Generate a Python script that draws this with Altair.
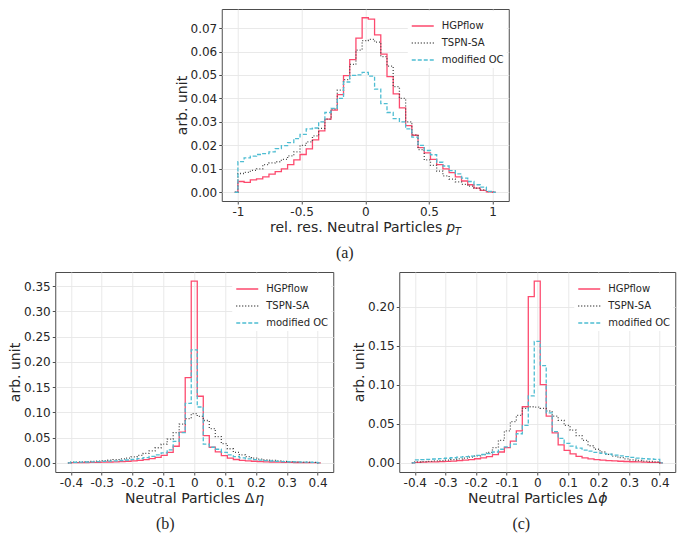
import altair as alt
import numpy as np
import pandas as pd

# ---------------- data ----------------
series_names = ["HGPflow", "TSPN-SA", "modified OC"]
series_colors = ["#fd4a6e", "#4a4a4a", "#4ebdd2"]
series_dashes = [[1, 0], [1, 2], [4, 2]]

# (a) relative resolution of neutral particle pT : 41 bins on [-1, 1]
pt_range = [-1.0, 1.0]
pt_hgpflow = [0.0046, 0.0042, 0.0053, 0.0057, 0.0066, 0.0077, 0.0088, 0.0100, 0.0118, 0.0138,
              0.0161, 0.0185, 0.0223, 0.0262, 0.0312, 0.0350, 0.0416, 0.0497, 0.0565, 0.0657,
              0.0744, 0.0738, 0.0671, 0.0589, 0.0493, 0.0419, 0.0360, 0.0284, 0.0243, 0.0190,
              0.0168, 0.0140, 0.0118, 0.0100, 0.0084, 0.0066, 0.0048, 0.0032, 0.0018, 0.0008,
              0.0002]
pt_tspn = [0.0080, 0.0085, 0.0093, 0.0100, 0.0118, 0.0125, 0.0130, 0.0140, 0.0155, 0.0172,
           0.0200, 0.0215, 0.0240, 0.0272, 0.0312, 0.0355, 0.0435, 0.0480, 0.0545, 0.0606,
           0.0646, 0.0652, 0.0640, 0.0578, 0.0538, 0.0450, 0.0400, 0.0300, 0.0245, 0.0182,
           0.0138, 0.0115, 0.0090, 0.0070, 0.0056, 0.0044, 0.0034, 0.0026, 0.0018, 0.0010,
           0.0003]
pt_moc = [0.0131, 0.0147, 0.0154, 0.0161, 0.0165, 0.0172, 0.0186, 0.0199, 0.0212, 0.0229,
          0.0247, 0.0270, 0.0274, 0.0300, 0.0340, 0.0358, 0.0400, 0.0470, 0.0498, 0.0500,
          0.0511, 0.0495, 0.0440, 0.0378, 0.0340, 0.0314, 0.0300, 0.0270, 0.0235, 0.0200,
          0.0178, 0.0160, 0.0128, 0.0112, 0.0092, 0.0078, 0.0060, 0.0046, 0.0032, 0.0022,
          0.0004]

# (b) Delta eta : 41 bins on [-0.4, 0.4]
eta_range = [-0.4, 0.4]
eta_hgpflow = [0.0005, 0.0006, 0.0008, 0.0010, 0.0012, 0.0015, 0.0018, 0.0022, 0.0027, 0.0033,
               0.0040, 0.0050, 0.0065, 0.0085, 0.0110, 0.0150, 0.0210, 0.0330, 0.0610, 0.1690,
               0.3600, 0.1320, 0.0540, 0.0310, 0.0220, 0.0145, 0.0095, 0.0068, 0.0052, 0.0040,
               0.0033, 0.0027, 0.0022, 0.0018, 0.0015, 0.0012, 0.0010, 0.0008, 0.0007, 0.0005,
               0.0004]
eta_tspn = [0.0016, 0.0020, 0.0025, 0.0030, 0.0036, 0.0044, 0.0053, 0.0064, 0.0078, 0.0095,
            0.0120, 0.0150, 0.0190, 0.0240, 0.0300, 0.0370, 0.0470, 0.0600, 0.0767, 0.0877,
            0.0975, 0.0920, 0.0840, 0.0680, 0.0520, 0.0380, 0.0280, 0.0210, 0.0160, 0.0125,
            0.0095, 0.0075, 0.0060, 0.0048, 0.0039, 0.0032, 0.0026, 0.0021, 0.0017, 0.0014,
            0.0011]
eta_moc = [0.0013, 0.0015, 0.0018, 0.0021, 0.0025, 0.0029, 0.0034, 0.0040, 0.0048, 0.0058,
           0.0070, 0.0085, 0.0105, 0.0130, 0.0160, 0.0200, 0.0260, 0.0425, 0.0600, 0.1180,
           0.2240, 0.1107, 0.0370, 0.0310, 0.0270, 0.0210, 0.0160, 0.0125, 0.0100, 0.0080,
           0.0066, 0.0055, 0.0045, 0.0038, 0.0032, 0.0027, 0.0023, 0.0020, 0.0017, 0.0014,
           0.0012]

# (c) Delta phi : 41 bins on [-0.4, 0.4]
phi_range = [-0.4, 0.4]
phi_hgpflow = [0.0008, 0.0010, 0.0012, 0.0014, 0.0017, 0.0020, 0.0024, 0.0029, 0.0035, 0.0043,
               0.0053, 0.0065, 0.0080, 0.0105, 0.0140, 0.0196, 0.0280, 0.0410, 0.0720, 0.2130,
               0.2330, 0.1004, 0.0600, 0.0385, 0.0230, 0.0160, 0.0115, 0.0085, 0.0065, 0.0052,
               0.0043, 0.0036, 0.0030, 0.0025, 0.0021, 0.0018, 0.0015, 0.0012, 0.0010, 0.0008,
               0.0006]
phi_tspn = [0.0012, 0.0016, 0.0020, 0.0025, 0.0030, 0.0036, 0.0043, 0.0052, 0.0062, 0.0075,
            0.0090, 0.0105, 0.0135, 0.0196, 0.0290, 0.0410, 0.0530, 0.0610, 0.0700, 0.0720,
            0.0715, 0.0700, 0.0665, 0.0600, 0.0545, 0.0480, 0.0420, 0.0350, 0.0290, 0.0220,
            0.0175, 0.0140, 0.0110, 0.0088, 0.0068, 0.0052, 0.0040, 0.0031, 0.0024, 0.0018,
            0.0014]
phi_moc = [0.0038, 0.0042, 0.0046, 0.0050, 0.0055, 0.0060, 0.0066, 0.0073, 0.0080, 0.0088,
           0.0097, 0.0108, 0.0120, 0.0140, 0.0175, 0.0205, 0.0240, 0.0374, 0.0480, 0.0860,
           0.1557, 0.1247, 0.0640, 0.0400, 0.0315, 0.0250, 0.0215, 0.0190, 0.0165, 0.0150,
           0.0135, 0.0123, 0.0112, 0.0100, 0.0090, 0.0080, 0.0070, 0.0062, 0.0055, 0.0050,
           0.0045]

pt_xticks = [-1, -0.5, 0, 0.5, 1]
pt_yticks = [0, 0.01, 0.02, 0.03, 0.04, 0.05, 0.06, 0.07]
ang_xticks = [-0.4, -0.3, -0.2, -0.1, 0, 0.1, 0.2, 0.3, 0.4]
eta_yticks = [0, 0.05, 0.10, 0.15, 0.20, 0.25, 0.30, 0.35]
phi_yticks = [0, 0.05, 0.10, 0.15, 0.20]


def step_table(lo, hi, series):
    """Histogram outline points (step-after) with half-bin zero padding at both ends."""
    n = len(series[0])
    edges = np.linspace(lo, hi, n + 1)
    half = (edges[1] - edges[0]) / 2
    rows = []
    for name, vals in zip(series_names, series):
        xs = [lo - half] + list(edges[:-1]) + [hi, hi + half]
        ys = [0.0] + list(vals) + [0.0, 0.0]
        for i, (x, y) in enumerate(zip(xs, ys)):
            rows.append({"x": float(x), "y": float(y), "series": name, "order": i})
    return pd.DataFrame(rows), lo - half, hi + half


def auto_domain(lo, hi):
    m = 0.05 * (hi - lo)
    return [lo - m, hi + m]


LABEL_X = "datum.value < 0 ? '-' + format(-datum.value, '~g') : format(datum.value, '~g')"
TXT = "#262626"


def text_layer(text, x, y, size, italic=False, align="left", font="DejaVu Sans"):
    return alt.Chart(pd.DataFrame({"t": [text]})).mark_text(
        align=align, baseline="alphabetic", fontSize=size, font=font,
        fontStyle="italic" if italic else "normal", color=TXT
    ).encode(x=alt.value(x), y=alt.value(y), text="t:N")


def panel(series, rng, xticks, yticks, w, h, title_parts, caption, cap_x):
    df, xmin, xmax = step_table(rng[0], rng[1], series)
    ymax = max(max(s) for s in series)
    legend = alt.Legend(title=None, orient="top-right", offset=2, padding=3,
                        fillColor="white", labelFontSize=10, labelColor=TXT,
                        labelFont="DejaVu Sans", symbolType="stroke", symbolSize=484,
                        symbolStrokeWidth=1.3, rowPadding=0, labelOffset=7)
    lines = alt.Chart(df).mark_line(interpolate="step-after", strokeWidth=1.3).encode(
        x=alt.X("x:Q", scale=alt.Scale(domain=auto_domain(xmin, xmax), nice=False, zero=False),
                axis=alt.Axis(values=xticks, title=None, labelExpr=LABEL_X, labelOverlap=False)),
        y=alt.Y("y:Q", scale=alt.Scale(domain=auto_domain(0, ymax), nice=False, zero=False),
                axis=alt.Axis(values=yticks, format=".2f", title="arb. unit", labelOverlap=False)),
        color=alt.Color("series:N", scale=alt.Scale(domain=series_names, range=series_colors),
                        legend=legend),
        strokeDash=alt.StrokeDash("series:N", scale=alt.Scale(domain=series_names, range=series_dashes),
                                  legend=legend),
        order="order:Q",
    )
    layers = [lines]
    for (txt, dx, dy, size, italic, align) in title_parts:
        layers.append(text_layer(txt, w / 2 + dx, h + dy, size, italic, align))
    layers.append(text_layer(caption, cap_x, h + 57, 16, False, "center", "Liberation Serif"))
    return alt.layer(*layers).properties(width=w, height=h)


pa = panel([pt_hgpflow, pt_tspn, pt_moc], pt_range, pt_xticks, pt_yticks, 287, 192,
           [("rel. res. Neutral Particles", 77, 31, 14, False, "right"),
            ("p", 81, 31, 14, True, "left"),
            ("T", 89.5, 34, 10, True, "left")],
           "(a)", 123)
pb = panel([eta_hgpflow, eta_tspn, eta_moc], eta_range, ang_xticks, eta_yticks, 278, 200,
           [("Neutral Particles Δ", 60, 31, 14, False, "right"),
            ("η", 61, 31, 14, True, "left")],
           "(b)", 110)
pc = panel([phi_hgpflow, phi_tspn, phi_moc], phi_range, ang_xticks, phi_yticks, 276, 200,
           [("Neutral Particles Δ", 60, 31, 14, False, "right"),
            ("ϕ", 61, 31, 14, True, "left")],
           "(c)", 122)

bottom = alt.hconcat(pb, pc, spacing=17).resolve_scale(
    color="independent", strokeDash="independent").resolve_legend(
    color="independent", strokeDash="independent")

chart = alt.vconcat(pa, bottom, spacing=9, center=True).resolve_scale(
    color="independent", strokeDash="independent").resolve_legend(
    color="independent", strokeDash="independent")

chart = chart.configure(
    font="DejaVu Sans",
    padding={"left": 0, "top": 0, "right": 1, "bottom": 2},
).configure_view(
    stroke="#4d4d4d", strokeWidth=1
).configure_axis(
    labelFont="DejaVu Sans", labelFontSize=12, labelColor=TXT,
    titleFont="DejaVu Sans", titleFontSize=14, titleFontWeight="normal", titleColor=TXT,
    gridColor="#e6e6e6", gridWidth=0.9, domain=False,
    tickColor="#4d4d4d", tickSize=3, labelPadding=2, titlePadding=1,
)

chart.save("out.html", embed_options={"renderer": "svg", "actions": False})
